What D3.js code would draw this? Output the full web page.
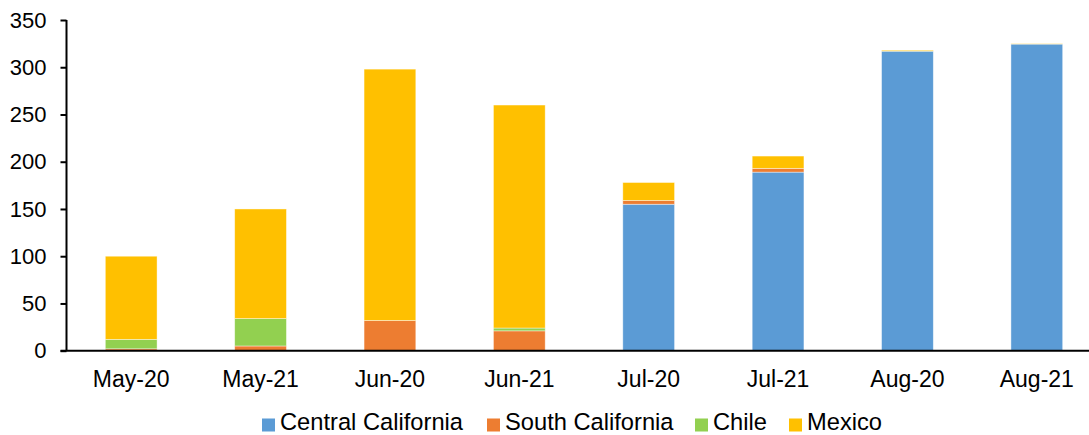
<!DOCTYPE html>
<html>
<head>
<meta charset="utf-8">
<script src="https://cdn.jsdelivr.net/npm/d3@7"></script>
<style>
  html, body { margin: 0; padding: 0; background: #fff; }
  svg { display: block; font-family: "Liberation Sans", Arial, sans-serif; }
</style>
</head>
<body>
<svg id="chart" width="1089" height="435"></svg>
<script>
// Monthly volumes by origin (stacked)
const months = ["May-20", "May-21", "Jun-20", "Jun-21", "Jul-20", "Jul-21", "Aug-20", "Aug-21"];
const centralCalifornia = [0, 0, 0, 0, 155, 189, 317, 324.5];
const southCalifornia   = [2, 5, 32, 21, 4, 4, 0, 0];
const chile             = [10, 29, 0, 3, 0, 0, 0, 0];
const mexico            = [88, 116, 266, 236, 19, 13, 1, 0.5];
const seriesNames  = ["Central California", "South California", "Chile", "Mexico"];
const seriesColors = ["#5B9BD5", "#ED7D31", "#92D050", "#FFC000"];
const yTicks = [0, 50, 100, 150, 200, 250, 300, 350];

const seriesValues = [centralCalifornia, southCalifornia, chile, mexico];
const rows = months.map((m, i) => {
  const r = { month: m };
  seriesNames.forEach((s, k) => { r[s] = seriesValues[k][i]; });
  return r;
});

const svg = d3.select("#chart");
const left = 66.5, plotTop = 20, plotBottom = 350.7, right = 1101.5;

const x = d3.scaleBand().domain(months).range([left, right])
  .paddingInner(0.6).paddingOuter(0.3);
const y = d3.scaleLinear().domain([0, 350]).range([plotBottom, plotTop]);

const stacked = d3.stack().keys(seriesNames)(rows);
const color = d3.scaleOrdinal().domain(seriesNames).range(seriesColors);

// Bars
svg.append("g").selectAll("g").data(stacked).join("g")
  .attr("fill", d => color(d.key))
  .selectAll("rect").data(d => d).join("rect")
  .attr("x", d => x(d.data.month))
  .attr("width", x.bandwidth())
  .attr("y", d => y(d[1]))
  .attr("height", d => Math.max(0, y(d[0]) - y(d[1])))
  .attr("stroke", "rgba(255,255,255,0.55)")
  .attr("stroke-width", 0.75);

// Y axis
const yAxis = svg.append("g")
  .attr("transform", `translate(${left},0)`)
  .call(d3.axisLeft(y).tickValues(yTicks).tickSize(6).tickPadding(14).tickSizeOuter(0));
yAxis.select(".domain").attr("stroke", "#000").attr("stroke-width", 2)
  .attr("d", `M0,${plotTop}V${plotBottom}`);
yAxis.selectAll(".tick line").attr("stroke", "#000").attr("stroke-width", 2);
yAxis.selectAll(".tick text").attr("font-size", 22).attr("fill", "#000")
  .attr("font-family", "Liberation Sans, Arial, sans-serif");

// X axis
const xAxis = svg.append("g")
  .attr("transform", `translate(0,${plotBottom})`)
  .call(d3.axisBottom(x).tickSize(0).tickPadding(20));
xAxis.select(".domain").attr("stroke", "#000").attr("stroke-width", 2)
  .attr("d", `M${left - 6},0H1089`);
xAxis.selectAll(".tick text").attr("font-size", 23).attr("fill", "#000")
  .attr("font-family", "Liberation Sans, Arial, sans-serif");

// Legend
const legendX = [262, 487, 695, 789];
const legend = svg.append("g").selectAll("g").data(seriesNames).join("g")
  .attr("transform", (d, i) => `translate(${legendX[i]},423.5)`);
legend.append("rect").attr("x", 0).attr("y", -5).attr("width", 13).attr("height", 13)
  .attr("fill", d => color(d));
legend.append("text").attr("x", 18).attr("y", 6.5).attr("font-size", 23.7).attr("fill", "#000")
  .text(d => d);
</script>
</body>
</html>
